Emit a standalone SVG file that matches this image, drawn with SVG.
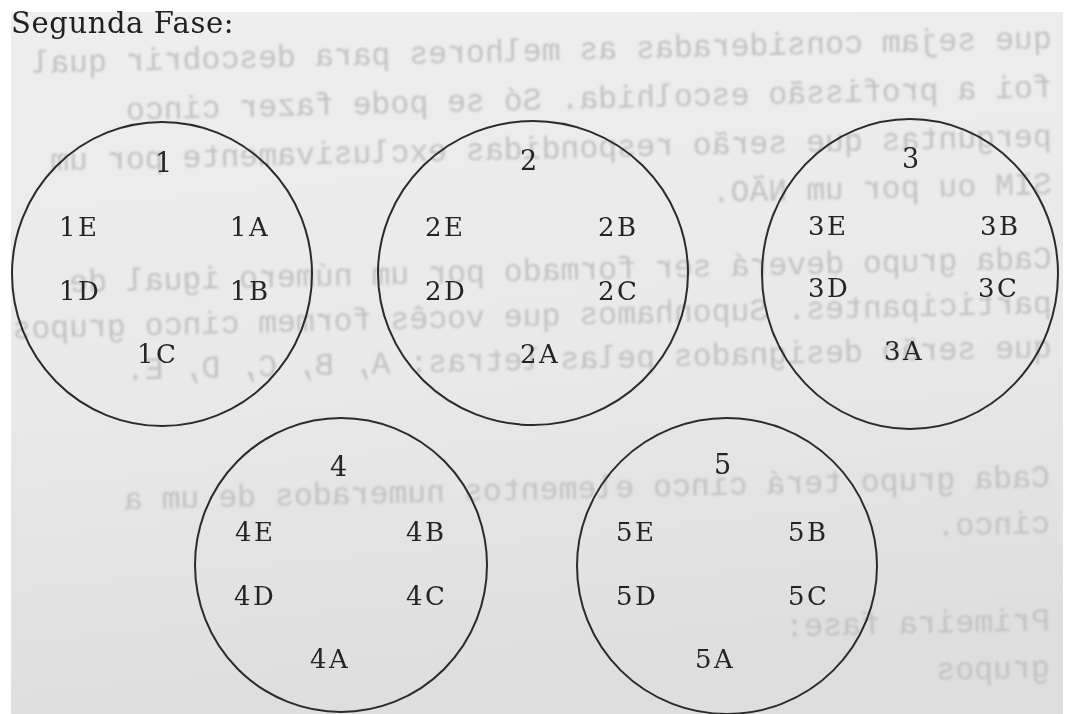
<svg xmlns="http://www.w3.org/2000/svg" width="1065" height="714" viewBox="0 0 1065 714">
<style>
.title{font-family:"DejaVu Serif","Liberation Serif",serif;font-size:29px;letter-spacing:0.6px;fill:#202020}
.num{font-family:"DejaVu Serif","Liberation Serif",serif;font-size:27px;fill:#242424}
.lbl{font-family:"DejaVu Serif","Liberation Serif",serif;font-size:26px;letter-spacing:2.5px;fill:#242424}
.ring{fill:none;stroke:#2b2b2b;stroke-width:2}
.bleed{font-family:"Liberation Mono","DejaVu Sans Mono",monospace;font-size:31.5px;fill:#c2c2c2}
</style>
<defs>
<linearGradient id="paper" x1="0" y1="0" x2="0.15" y2="1">
<stop offset="0" stop-color="#eeeeee"/>
<stop offset="0.55" stop-color="#e9e9e9"/>
<stop offset="1" stop-color="#dedede"/>
</linearGradient>
<filter id="soft" x="-5%" y="-50%" width="110%" height="200%"><feGaussianBlur stdDeviation="0.8"/></filter>
</defs>
<rect x="0" y="0" width="1065" height="714" fill="#ffffff"/>
<rect x="11" y="12" width="1052" height="702" fill="url(#paper)"/>
<g id="show-through" class="bleed" filter="url(#soft)">
<text transform="translate(1052,48) rotate(-1.4) scale(-1,1)">que sejam consideradas as melhores para descobrir qual</text>
<text transform="translate(1052,97) rotate(-1.4) scale(-1,1)">foi a profissão escolhida. Só se pode fazer cinco</text>
<text transform="translate(1052,146) rotate(-1.4) scale(-1,1)">perguntas que serão respondidas exclusivamente por um</text>
<text transform="translate(1052,194) rotate(-1.4) scale(-1,1)">SIM ou por um NÃO.</text>
<text transform="translate(1052,268) rotate(-1.4) scale(-1,1)">Cada grupo deverá ser formado por um número igual de</text>
<text transform="translate(1052,313) rotate(-1.4) scale(-1,1)">participantes. Suponhamos que vocês formem cinco grupos</text>
<text transform="translate(1052,357) rotate(-1.4) scale(-1,1)">que serão designados pelas letras: A, B, C, D, E.</text>
<text transform="translate(1050,487) rotate(-1.4) scale(-1,1)">Cada grupo terá cinco elementos numerados de um a</text>
<text transform="translate(1050,533) rotate(-1.4) scale(-1,1)">cinco.</text>
<text transform="translate(1050,630) rotate(-1.4) scale(-1,1)">Primeira fase:</text>
<text transform="translate(1050,677) rotate(-1.4) scale(-1,1)">grupos</text>
</g>
<text id="title" class="title" x="11" y="33">Segunda Fase:</text>
<g id="connectors"></g>
<g id="group1">
<ellipse class="ring" cx="162" cy="274" rx="150" ry="152"/>
<text class="num" x="155" y="172">1</text>
<text class="lbl" x="59" y="236">1E</text>
<text class="lbl" x="230" y="236">1A</text>
<text class="lbl" x="59" y="300">1D</text>
<text class="lbl" x="230" y="300">1B</text>
<text class="lbl" x="137" y="363">1C</text>
</g>
<g id="group2">
<ellipse class="ring" cx="533" cy="273" rx="155" ry="152"/>
<text class="num" x="520" y="170">2</text>
<text class="lbl" x="425" y="236">2E</text>
<text class="lbl" x="598" y="236">2B</text>
<text class="lbl" x="425" y="300">2D</text>
<text class="lbl" x="598" y="300">2C</text>
<text class="lbl" x="520" y="363">2A</text>
</g>
<g id="group3">
<ellipse class="ring" cx="910" cy="274" rx="148" ry="155"/>
<text class="num" x="902" y="168">3</text>
<text class="lbl" x="808" y="235">3E</text>
<text class="lbl" x="980" y="235">3B</text>
<text class="lbl" x="808" y="297">3D</text>
<text class="lbl" x="978" y="297">3C</text>
<text class="lbl" x="884" y="360">3A</text>
</g>
<g id="group4">
<ellipse class="ring" cx="341" cy="565" rx="146" ry="147"/>
<text class="num" x="330" y="476">4</text>
<text class="lbl" x="235" y="541">4E</text>
<text class="lbl" x="406" y="541">4B</text>
<text class="lbl" x="234" y="605">4D</text>
<text class="lbl" x="406" y="605">4C</text>
<text class="lbl" x="310" y="668">4A</text>
</g>
<g id="group5">
<ellipse class="ring" cx="727" cy="566" rx="150" ry="148"/>
<text class="num" x="714" y="474">5</text>
<text class="lbl" x="616" y="541">5E</text>
<text class="lbl" x="788" y="541">5B</text>
<text class="lbl" x="616" y="605">5D</text>
<text class="lbl" x="788" y="605">5C</text>
<text class="lbl" x="695" y="668">5A</text>
</g>
</svg>
